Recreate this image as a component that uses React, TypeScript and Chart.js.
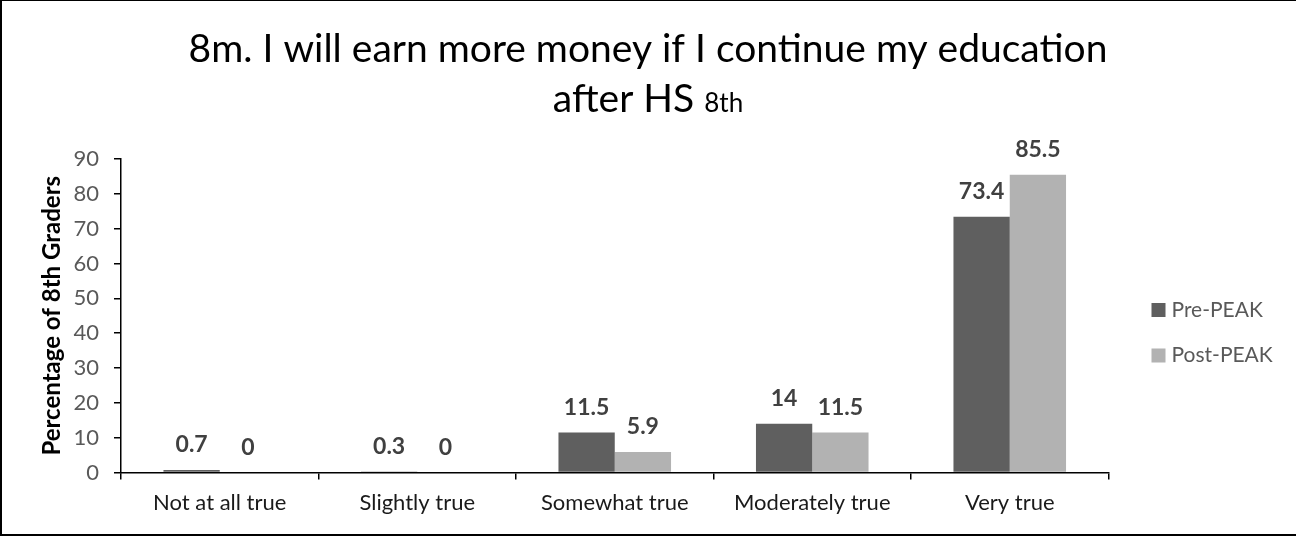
import React, { useEffect, useRef } from "react";
import { Chart, registerables } from "chart.js";

Chart.register(...registerables);

const categories = ["Not at all true", "Slightly true", "Somewhat true", "Moderately true", "Very true"];
const prePeak = [0.7, 0.3, 11.5, 14, 73.4];
const postPeak = [0, 0, 5.9, 11.5, 85.5];
const seriesLabels = ["Pre-PEAK", "Post-PEAK"];
const seriesColors = ["#5f5f5f", "#b2b2b2"];
const titleLine1 = "8m. I will earn more money if I continue my education";
const titleLine2 = "after HS";
const titleSuffix = "8th";
const yAxisTitle = "Percentage of 8th Graders";
const yMin = 0;
const yMax = 90;
const yStep = 10;

const FONT = "Lato";

const titlePlugin = {
  id: "customTitle",
  afterDraw(chart: any) {
    const ctx = chart.ctx;
    const cx = chart.width / 2;
    ctx.save();
    ctx.fillStyle = "#000000";
    ctx.textBaseline = "alphabetic";
    ctx.font = `39px ${FONT}`;
    ctx.textAlign = "center";
    ctx.fillText(titleLine1, cx, 62);
    const w1 = ctx.measureText(titleLine2 + " ").width;
    ctx.font = `26px ${FONT}`;
    const w2 = ctx.measureText(titleSuffix).width;
    const total = w1 + w2;
    const start = cx - total / 2;
    ctx.textAlign = "left";
    ctx.font = `39px ${FONT}`;
    ctx.fillText(titleLine2, start, 111.5);
    ctx.font = `26px ${FONT}`;
    ctx.fillText(titleSuffix, start + w1, 111.5);
    ctx.restore();
  },
};

const labelPlugin = {
  id: "barValueLabels",
  afterDatasetsDraw(chart: any) {
    const ctx = chart.ctx;
    ctx.save();
    ctx.font = `bold 23px ${FONT}`;
    ctx.fillStyle = "#404040";
    ctx.textAlign = "center";
    ctx.textBaseline = "middle";
    chart.data.datasets.forEach((ds: any, i: number) => {
      const meta = chart.getDatasetMeta(i);
      meta.data.forEach((bar: any, j: number) => {
        ctx.fillText(String(ds.data[j]), bar.x, bar.y - 25);
      });
    });
    ctx.restore();
  },
};

const legendPlugin = {
  id: "customLegend",
  afterDraw(chart: any) {
    const ctx = chart.ctx;
    const area = chart.chartArea;
    const x0 = area.right + 43;
    const yStart = 310;
    const gap = 45.5;
    ctx.save();
    ctx.font = `21px ${FONT}`;
    ctx.textBaseline = "middle";
    ctx.textAlign = "left";
    chart.data.datasets.forEach((ds: any, i: number) => {
      const y = yStart + i * gap;
      ctx.fillStyle = ds.backgroundColor;
      ctx.fillRect(x0, y - 7, 14, 14);
      ctx.fillStyle = "#595959";
      ctx.fillText(ds.label, x0 + 20, y);
    });
    ctx.restore();
  },
};

export default function App() {
  const ref = useRef<HTMLCanvasElement | null>(null);

  useEffect(() => {
    if (!ref.current) return;
    const chart = new Chart(ref.current, {
      type: "bar",
      data: {
        labels: categories,
        datasets: [
          { label: seriesLabels[0], data: prePeak, backgroundColor: seriesColors[0], borderWidth: 0 },
          { label: seriesLabels[1], data: postPeak, backgroundColor: seriesColors[1], borderWidth: 0 },
        ],
      },
      options: {
        animation: false,
        responsive: false,
        maintainAspectRatio: false,
        layout: { padding: { top: 159, left: 20, right: 187.5, bottom: 0 } },
        datasets: { bar: { categoryPercentage: 0.57, barPercentage: 1 } },
        plugins: {
          legend: { display: false },
          title: { display: false },
          tooltip: { enabled: false },
        },
        scales: {
          x: {
            afterFit: (scale: any) => {
              scale.height = 64.5;
            },
            grid: {
              offset: true,
              drawOnChartArea: false,
              drawTicks: true,
              tickLength: 7,
              color: "#000000",
              lineWidth: 1.5,
            },
            border: { display: true, color: "#000000", width: 1.5 },
            ticks: {
              color: "#1a1a1a",
              font: { family: FONT, size: 22 },
              padding: 10,
              maxRotation: 0,
            },
          },
          y: {
            min: yMin,
            max: yMax,
            afterFit: (scale: any) => {
              scale.width = 101;
            },
            grid: {
              drawOnChartArea: false,
              drawTicks: true,
              tickLength: 7,
              color: "#000000",
              lineWidth: 1.5,
            },
            border: { display: true, color: "#000000", width: 1.5 },
            ticks: {
              stepSize: yStep,
              color: "#595959",
              font: { family: FONT, size: 22 },
              padding: 15,
            },
            title: {
              display: true,
              text: yAxisTitle,
              color: "#000000",
              font: { family: FONT, size: 24, weight: "bold" },
              padding: { top: 18, bottom: 0 },
            },
          },
        },
      },
      plugins: [titlePlugin, labelPlugin, legendPlugin],
    });
    return () => chart.destroy();
  }, []);

  return (
    <div style={{ position: "fixed", left: 0, top: 0, width: 1296, height: 537, background: "#ffffff" }}>
      <canvas ref={ref} width={1296} height={537} style={{ width: 1296, height: 537, display: "block" }} />
      <div
        style={{
          position: "absolute",
          left: 0,
          top: 0,
          width: 1296,
          height: 536,
          boxSizing: "border-box",
          borderLeft: "2px solid #000",
          borderTop: "1px solid #000",
          borderBottom: "2px solid #000",
          pointerEvents: "none",
        }}
      />
    </div>
  );
}
